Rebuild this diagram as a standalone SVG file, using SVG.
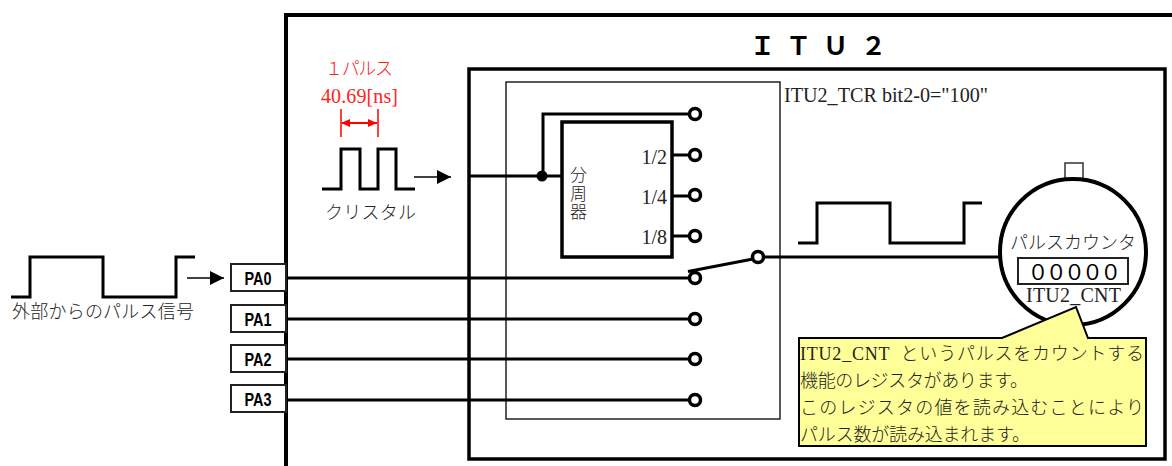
<svg xmlns="http://www.w3.org/2000/svg" width="1172" height="466" viewBox="0 0 1172 466">
<defs>
<marker id="ah" markerUnits="userSpaceOnUse" markerWidth="15" markerHeight="14" refX="14" refY="7" orient="auto"><path d="M0,0L14,7L0,14Z" fill="#000"/></marker>
<marker id="rs" markerUnits="userSpaceOnUse" markerWidth="10" markerHeight="10" refX="1" refY="5" orient="auto"><path d="M0,5L9,1V9Z" fill="#f00"/></marker>
<marker id="re" markerUnits="userSpaceOnUse" markerWidth="10" markerHeight="10" refX="9" refY="5" orient="auto"><path d="M9,5L0,1V9Z" fill="#f00"/></marker>
</defs>
<style>
text{font-family:"Liberation Serif","Noto Sans CJK JP",serif;fill:#222}
.g{font-size:18px;font-weight:300}
.l{font-size:20px}
.r{fill:#f22}
.pa{font-family:"Liberation Sans",sans-serif;font-weight:700;font-size:18px;fill:#000;text-anchor:middle}
.t{fill:none;stroke:#000;stroke-width:3}
.pin{fill:#fff;stroke:#000;stroke-width:3.5}
.box{fill:#fff;stroke:#222;stroke-width:2}
</style>
<path id="itu-outer" d="M286,470V15H1172" fill="none" stroke="#000" stroke-width="4"/>
<rect id="itu-inner" x="469" y="69" width="696" height="390" fill="none" stroke="#000" stroke-width="3.5"/>
<rect id="selector" x="506" y="82" width="274" height="337" fill="none" stroke="#222" stroke-width="1.5"/>
<text id="itu-title" x="750 786 823 861" y="55" style="font-family:'Noto Sans CJK JP',sans-serif;font-size:25px;font-weight:700;fill:#000">ＩＴＵ２</text>
<text id="tcr-label" x="784" y="102" class="l" textLength="204" lengthAdjust="spacingAndGlyphs">ITU2_TCR bit2-0="100"</text>

<g id="connectors">
<path class="t" d="M469,176H561"/>
<path class="t" d="M543,176V114H690"/>
<path class="t" d="M673,155H690M673,196H690M673,236H690"/>
<path class="t" d="M288,278H690M288,319H690M288,359H690M288,400H690"/>
<path class="t" d="M688,271.500L753,259"/>
<path class="t" d="M764,257H1002"/>
<path d="M414,177H451" stroke="#000" stroke-width="1.500" fill="none" marker-end="url(#ah)"/>
<path d="M187,278H224" stroke="#000" stroke-width="1.500" fill="none" marker-end="url(#ah)"/>
<circle cx="542" cy="176" r="5.500" fill="#000"/>
</g>

<g id="pin-top"><circle class="pin" cx="695" cy="114" r="5.500"/></g>
<g id="pin-12"><circle class="pin" cx="695" cy="155" r="5.500"/></g>
<g id="pin-14"><circle class="pin" cx="695" cy="195" r="5.500"/></g>
<g id="pin-18"><circle class="pin" cx="695" cy="236" r="5.500"/></g>
<g id="pin-pa0"><circle class="pin" cx="695" cy="278" r="5.500"/></g>
<g id="pin-pa1"><circle class="pin" cx="695" cy="319" r="5.500"/></g>
<g id="pin-pa2"><circle class="pin" cx="695" cy="359" r="5.500"/></g>
<g id="pin-pa3"><circle class="pin" cx="695" cy="400" r="5.500"/></g>
<g id="pin-out"><circle class="pin" cx="758" cy="257" r="5.500"/></g>

<g id="divider">
<rect x="562" y="122" width="110" height="135" fill="#fff" stroke="#000" stroke-width="3.500"/>
<text x="570" y="181" class="g" style="font-size:17px">分</text>
<text x="570" y="199.500" class="g" style="font-size:17px">周</text>
<text x="570" y="218" class="g" style="font-size:17px">器</text>
<text x="667" y="164" class="l" text-anchor="end">1/2</text>
<text x="667" y="204" class="l" text-anchor="end">1/4</text>
<text x="667" y="244" class="l" text-anchor="end">1/8</text>
</g>

<g id="crystal">
<path class="t" d="M322,189H341V149H360V189H378V149H396V189H415"/>
<text x="325" y="219" class="g" textLength="91">クリスタル</text>
</g>
<g id="pulse-width">
<text x="325" y="75" class="g r" textLength="68">１パルス</text>
<text x="321" y="103" class="l r" textLength="77">40.69[ns]</text>
<path d="M341,109V137M378,109V137" stroke="#f00" stroke-width="1.500" fill="none"/>
<path d="M342,123H377" stroke="#f00" stroke-width="2" fill="none" marker-start="url(#rs)" marker-end="url(#re)"/>
</g>

<g id="external-pulse">
<path class="t" d="M11,297H30V257H103V297H176V257H195"/>
<text x="12" y="318" class="g" textLength="182">外部からのパルス信号</text>
</g>

<g id="pa0"><rect class="box" x="231" y="264" width="55" height="27"/><text x="258" y="285" class="pa" textLength="27" lengthAdjust="spacingAndGlyphs">PA0</text></g>
<g id="pa1"><rect class="box" x="231" y="305" width="55" height="27"/><text x="258" y="326" class="pa" textLength="27" lengthAdjust="spacingAndGlyphs">PA1</text></g>
<g id="pa2"><rect class="box" x="231" y="345" width="55" height="27"/><text x="258" y="366" class="pa" textLength="27" lengthAdjust="spacingAndGlyphs">PA2</text></g>
<g id="pa3"><rect class="box" x="231" y="385" width="55" height="27"/><text x="258" y="406" class="pa" textLength="27" lengthAdjust="spacingAndGlyphs">PA3</text></g>

<g id="output-pulse">
<path class="t" d="M798,243H817V203H890V243H964V203H982"/>
</g>

<g id="counter">
<rect x="1065" y="163" width="18" height="18" fill="#fff" stroke="#333" stroke-width="1.500"/>
<circle cx="1073" cy="252" r="73" fill="#fff" stroke="#000" stroke-width="4"/>
<text x="1010" y="249" class="g" textLength="126">パルスカウンタ</text>
<rect x="1018" y="258" width="110" height="26" fill="#fff" stroke="#222" stroke-width="2"/>
<text x="1027.500 1045.700 1063.900 1082.100 1100.300" y="280" style="font-family:'Noto Sans CJK JP',sans-serif;font-size:21px;fill:#000">０００００</text>
<text x="1026" y="302" class="l" textLength="95">ITU2_CNT</text>
</g>

<g id="callout">
<path d="M799,338H1002L1076,307L1088,338H1146V446H799Z" fill="#ffff99" stroke="#000" stroke-width="2"/>
<text x="800" y="360" class="g" textLength="344" xml:space="preserve">ITU2_CNT  というパルスをカウントする</text>
<text x="800" y="387" class="g" textLength="228">機能のレジスタがあります。</text>
<text x="800" y="414" class="g" textLength="344">このレジスタの値を読み込むことにより</text>
<text x="800" y="441" class="g" textLength="230">パルス数が読み込まれます。</text>
</g>
</svg>
